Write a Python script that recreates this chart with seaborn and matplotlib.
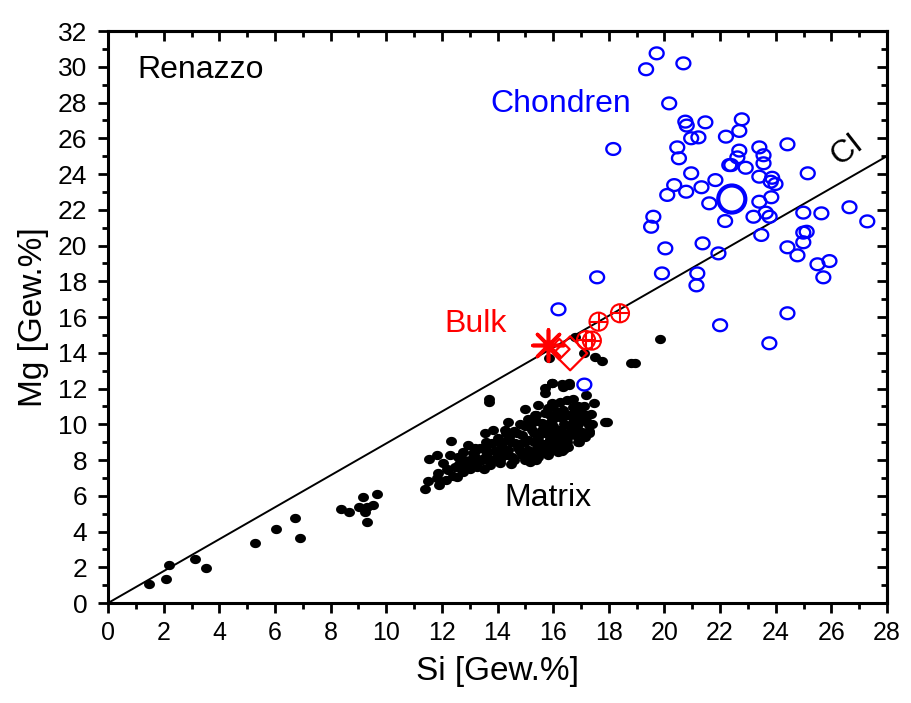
import numpy as np
import pandas as pd
import matplotlib
matplotlib.use("Agg")
import matplotlib.pyplot as plt
from matplotlib.path import Path
from matplotlib.ticker import MultipleLocator
import seaborn as sns

# ---------------- data ----------------
chondren_si = [19.72, 19.34, 20.68, 20.17, 18.16, 20.75, 20.80, 21.47, 22.78, 22.69,
               22.21, 20.96, 21.22, 20.46, 20.52, 23.41, 23.56, 23.56, 24.42, 22.69,
               22.62, 22.33, 22.40, 22.92, 20.96, 21.83, 23.41, 23.87, 23.82, 23.99,
               25.15, 20.35, 20.10, 20.78, 21.33, 21.61, 23.41, 23.84, 22.18, 23.20,
               23.64, 23.78, 24.99, 25.64, 26.65, 27.29, 19.60, 19.52, 23.48, 24.99,
               25.11, 24.99, 21.37, 20.03, 21.94, 24.42, 24.78, 25.50, 25.93, 25.71,
               19.91, 21.18, 21.15, 17.58, 16.19, 24.42, 22.00, 23.77, 17.12]
chondren_mg = [30.75, 29.86, 30.19, 27.95, 25.40, 26.93, 26.71, 26.89, 27.06, 26.41,
               26.09, 26.00, 26.05, 25.49, 24.88, 25.49, 25.05, 24.60, 25.66, 25.31,
               24.93, 24.50, 24.50, 24.35, 24.04, 23.66, 23.85, 23.79, 23.57, 23.44,
               24.04, 23.38, 22.83, 23.01, 23.26, 22.36, 22.45, 22.70, 21.37, 21.61,
               21.84, 21.61, 21.84, 21.80, 22.14, 21.35, 21.61, 21.05, 20.59, 20.72,
               20.77, 20.18, 20.12, 19.84, 19.56, 19.90, 19.45, 18.95, 19.13, 18.22,
               18.44, 18.44, 17.77, 18.22, 16.43, 16.21, 15.54, 14.53, 12.22]
chondren_mean_si = [22.42]
chondren_mean_mg = [22.60]

matrix_si = [1.47, 2.08, 2.19, 3.13, 3.52, 5.28, 6.04, 6.73, 6.90, 8.38,
             8.66, 9.03, 9.18, 9.30, 9.24, 9.54, 9.67, 9.31,
             11.39, 11.49, 11.54, 11.81, 11.81, 11.85, 12.05, 12.13, 12.23, 12.33,
             12.29, 12.47, 12.53, 12.57, 12.77, 12.77, 12.93, 13.01, 13.19, 13.25,
             13.37, 13.43, 13.55, 13.61, 13.73, 13.79, 13.85, 13.97, 14.03, 14.09,
             13.69, 15.95, 15.71, 16.37, 16.57, 17.17, 14.99, 15.35, 14.39, 15.11,
             15.95, 16.25, 16.49, 16.73, 17.00, 16.37, 16.73, 15.71, 17.27, 17.09,
             16.79, 15.17, 14.27, 14.15, 14.09, 14.63, 14.87, 15.23, 15.59, 15.95,
             16.31, 16.67, 17.03, 17.15, 16.91, 16.55, 16.19, 15.83, 15.47, 14.87,
             14.51, 14.39, 14.75, 15.11, 15.47, 15.83, 16.19, 16.55, 16.79, 16.19,
             15.83, 15.47, 15.11, 16.01, 15.65, 16.31, 16.49, 15.47, 15.83, 16.13,
             16.49, 17.86, 12.60, 12.90, 13.10, 13.30, 13.50, 13.90, 14.20, 14.40,
             14.60, 14.80, 15.00, 15.30, 15.40, 15.60, 15.70, 15.90, 16.00, 16.10,
             16.30, 16.40, 16.60, 16.80, 16.90, 17.10, 17.20, 16.70, 16.20, 15.50,
             15.20, 14.30, 14.50, 13.70, 13.20, 12.80, 17.35, 17.45, 17.30, 16.95,
             15.86, 16.79, 17.09, 17.50, 17.75, 18.94, 19.85, 15.95, 16.31, 16.58,
             15.71, 17.92, 13.71, 18.80,
             13.00, 13.40, 13.80, 14.60, 15.00, 15.40,
             13.20, 13.60, 14.00, 14.80, 15.30, 15.90, 16.30,
             13.60, 14.00, 14.50, 15.00, 15.50, 16.00, 16.50, 16.90,
             14.30, 14.70, 15.30, 15.70, 16.10, 16.40, 16.90, 17.30,
             14.80, 15.20, 15.80, 16.40, 16.90, 17.40,
             15.40, 15.90, 16.20, 16.60, 17.20,
             16.00, 16.90, 17.10,
             12.20, 12.70, 13.00, 13.50, 11.90, 12.40]
matrix_mg = [1.05, 1.32, 2.11, 2.44, 1.98, 3.34, 4.12, 4.74, 3.62, 5.24,
             5.11, 5.35, 5.91, 5.35, 5.11, 5.50, 6.08, 4.55,
             6.36, 6.84, 8.04, 8.28, 6.98, 7.29, 7.82, 6.88, 7.44, 9.08,
             8.28, 7.63, 7.07, 8.19, 8.46, 7.35, 8.84, 7.91, 8.19, 7.63,
             8.65, 8.00, 9.49, 8.37, 7.72, 8.93, 9.68, 8.19, 9.21, 7.82,
             11.26, 12.29, 11.73, 12.07, 12.20, 11.64, 10.84, 10.52, 10.14, 10.28,
             11.17, 11.26, 11.36, 11.40, 10.70, 10.80, 10.98, 10.61, 9.96, 10.24,
             10.42, 7.91, 9.68, 8.65, 8.00, 8.93, 9.40, 9.68, 10.05, 10.24,
             10.33, 9.86, 9.58, 9.30, 9.02, 8.74, 8.46, 8.28, 8.19, 8.28,
             8.19, 8.56, 8.65, 9.12, 9.30, 9.49, 9.68, 9.49, 9.40, 9.12,
             8.93, 8.74, 8.56, 8.65, 8.46, 8.84, 9.21, 11.08, 10.89, 10.70,
             10.52, 10.14, 7.80, 7.60, 8.40, 7.90, 8.10, 8.50, 9.00, 9.30,
             9.60, 8.90, 9.90, 9.00, 10.20, 9.70, 8.90, 9.20, 9.90, 10.40,
             9.50, 8.60, 9.90, 10.60, 9.70, 10.50, 10.10, 10.10, 8.80, 8.50,
             8.20, 8.30, 7.80, 8.90, 8.70, 8.00, 10.60, 11.20, 9.60, 10.90,
             13.69, 14.90, 13.97, 13.78, 13.56, 13.41, 14.75, 12.33, 12.25, 12.33,
             12.03, 10.14, 11.39, 13.40,
             8.00, 8.00, 8.00, 8.00, 8.00, 8.00,
             8.50, 8.50, 8.50, 8.50, 8.50, 8.50, 8.50,
             9.00, 9.00, 9.00, 9.00, 9.00, 9.00, 9.00, 9.00,
             9.50, 9.50, 9.50, 9.50, 9.50, 9.50, 9.50, 9.50,
             10.00, 10.00, 10.00, 10.00, 10.00, 10.00,
             10.50, 10.50, 10.50, 10.50, 10.50,
             11.00, 11.00, 11.00,
             7.50, 7.50, 7.50, 7.50, 6.60, 7.10]

bulk_star_si = [15.80]
bulk_star_mg = [14.45]
bulk_diamond_si = [16.22, 16.61]
bulk_diamond_mg = [14.20, 13.97]
bulk_diamond_size = [130, 330]
bulk_oplus_si = [17.18, 17.39, 17.63, 18.40]
bulk_oplus_mg = [14.71, 14.68, 15.74, 16.21]

ci_si = [0.0, 28.0]
ci_mg = [0.0, 25.0]

x_ticks = list(range(0, 29, 2))
y_ticks = list(range(0, 33, 2))

# ---------------- style ----------------
sns.set_theme(style="ticks")
plt.rcParams["font.family"] = ["Liberation Sans", "DejaVu Sans"]
for k in ["text.color", "axes.labelcolor", "xtick.color", "ytick.color", "axes.edgecolor"]:
    plt.rcParams[k] = "black"

fig = plt.figure(figsize=(9.11, 7.03), dpi=100)
ax = fig.add_axes([0.1186, 0.1422, 0.8551, 0.8137])

t = np.linspace(0, 2 * np.pi, 60)
ell = Path(np.column_stack([np.cos(t) * 1.0, np.sin(t) * 0.85]), closed=True)

mat_df = pd.DataFrame({"Si": matrix_si, "Mg": matrix_mg})
chd_df = pd.DataFrame({"Si": chondren_si, "Mg": chondren_mg})
mean_df = pd.DataFrame({"Si": chondren_mean_si, "Mg": chondren_mean_mg})

sns.lineplot(x=ci_si, y=ci_mg, ax=ax, color="black", lw=1.4, zorder=2)

sns.scatterplot(data=mat_df, x="Si", y="Mg", ax=ax, marker=ell, s=62,
                color="black", edgecolor="black", linewidth=0, zorder=3)

sns.scatterplot(data=chd_df, x="Si", y="Mg", ax=ax, marker=ell, s=100,
                facecolor="none", edgecolor="#0000ff", linewidth=1.7, zorder=4)
sns.scatterplot(data=mean_df, x="Si", y="Mg", ax=ax, marker="o", s=380,
                facecolor="none", edgecolor="#0000ff", linewidth=3.0, zorder=4)

# bulk
sns.scatterplot(x=bulk_diamond_si, y=bulk_diamond_mg, ax=ax, marker="D",
                size=bulk_diamond_size, sizes=(110, 300), legend=False,
                facecolor="none", edgecolor="red", linewidth=1.6, zorder=5)
sns.scatterplot(x=bulk_star_si, y=bulk_star_mg, ax=ax, marker=(8, 2, 0), s=500,
                color="red", edgecolor="red", linewidth=2.6, zorder=6)
sns.scatterplot(x=bulk_oplus_si, y=bulk_oplus_mg, ax=ax, marker="o", s=170,
                facecolor="none", edgecolor="red", linewidth=1.5, zorder=5)
sns.scatterplot(x=bulk_oplus_si, y=bulk_oplus_mg, ax=ax, marker="+", s=170,
                color="red", edgecolor="red", linewidth=1.5, zorder=5)

# texts
ax.text(1.05, 29.8, "Renazzo", fontsize=23, color="black", va="center", ha="left")
ax.text(13.75, 27.9, "Chondren", fontsize=23, color="#0000ff", va="center", ha="left")
ax.text(12.1, 15.6, "Bulk", fontsize=23, color="red", va="center", ha="left")
ax.text(14.25, 5.9, "Matrix", fontsize=23, color="black", va="center", ha="left")
ax.text(26.55, 25.35, "CI", fontsize=23, color="black", va="center", ha="center",
        rotation=38)

ax.set_xlim(0, 28)
ax.set_ylim(0, 32)
ax.set_xticks(x_ticks)
ax.set_yticks(y_ticks)
ax.xaxis.set_minor_locator(MultipleLocator(1))
ax.yaxis.set_minor_locator(MultipleLocator(1))

ax.set_xlabel("Si [Gew.%]", fontsize=24, labelpad=8)
ax.set_ylabel("Mg [Gew.%]", fontsize=24, labelpad=6)

for sp in ax.spines.values():
    sp.set_visible(True)
    sp.set_linewidth(2.2)
    sp.set_color("black")

ax.tick_params(which="both", bottom=True, left=True, top=False, right=False,
               direction="out", width=2.0, color="black")
ax.tick_params(which="major", length=7)
ax.tick_params(which="minor", length=4)
ax.tick_params(axis="x", pad=6, labelsize=18)
ax.tick_params(axis="y", pad=8, labelsize=19)

secx = ax.secondary_xaxis("top")
secx.set_xticks(x_ticks)
secx.xaxis.set_minor_locator(MultipleLocator(1))
secx.tick_params(which="both", direction="in", width=2.0, labeltop=False)
secx.tick_params(which="major", length=7)
secx.tick_params(which="minor", length=4)
secx.spines["top"].set_linewidth(2.2)
secy = ax.secondary_yaxis("right")
secy.set_yticks(y_ticks)
secy.yaxis.set_minor_locator(MultipleLocator(1))
secy.tick_params(which="both", direction="in", width=2.0, labelright=False)
secy.tick_params(which="major", length=7)
secy.tick_params(which="minor", length=4)
secy.spines["right"].set_linewidth(2.2)

ax.grid(False)

fig.savefig("out.png", dpi=100)
